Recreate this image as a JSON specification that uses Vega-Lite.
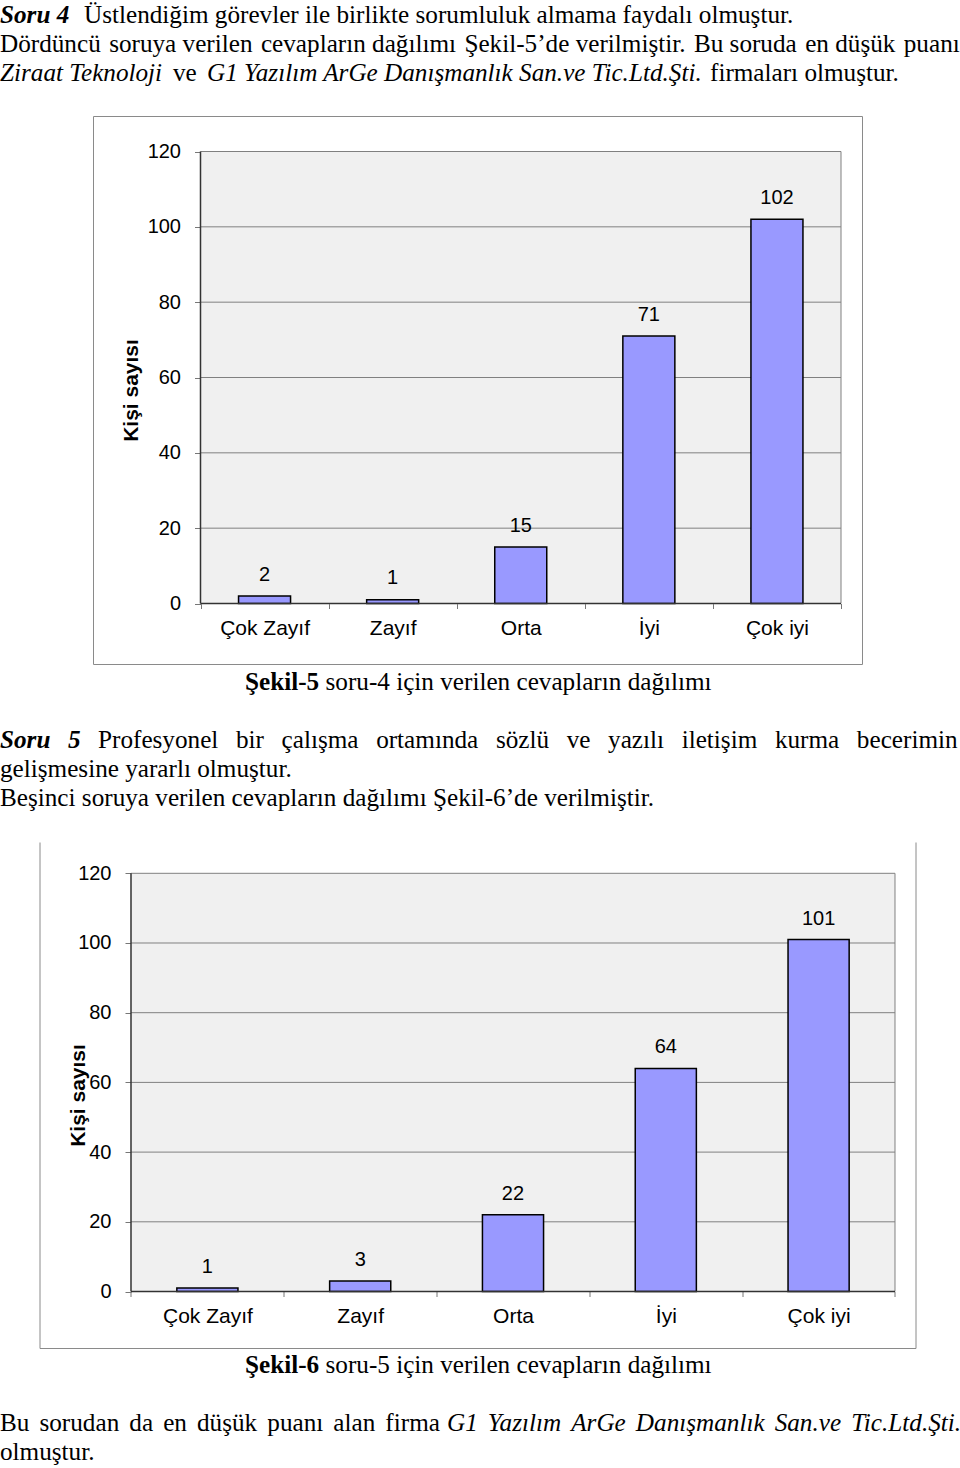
{
  "$schema": "https://vega.github.io/schema/vega-lite/v6.json",
  "padding": 0,
  "background": "white",
  "spacing": 0,
  "center": true,
  "bounds": "flush",
  "config": {
    "view": {"stroke": null},
    "text": {"font": "Liberation Serif", "fontSize": 25.2, "align": "left", "baseline": "alphabetic", "color": "#000"}
  },
  "datasets": {
    "c1": [
      {"cevap": "Çok Zayıf", "kisi": 2},
      {"cevap": "Zayıf", "kisi": 1},
      {"cevap": "Orta", "kisi": 15},
      {"cevap": "İyi", "kisi": 71},
      {"cevap": "Çok iyi", "kisi": 102}
    ],
    "c2": [
      {"cevap": "Çok Zayıf", "kisi": 1},
      {"cevap": "Zayıf", "kisi": 3},
      {"cevap": "Orta", "kisi": 22},
      {"cevap": "İyi", "kisi": 64},
      {"cevap": "Çok iyi", "kisi": 101}
    ],
    "grid": [{"v": 0}, {"v": 20}, {"v": 40}, {"v": 60}, {"v": 80}, {"v": 100}, {"v": 120}]
  },
  "vconcat": [
    {
      "width": 955, "height": 116,
      "encoding": {
        "y": {"field": "row", "type": "quantitative", "scale": {"domain": [-0.78276, 3.21724], "reverse": true, "nice": false, "zero": false}, "axis": null},
        "text": {"field": "t"}
      },
      "layer": [
        {"data": {"values": [{"row": 0, "t": "Soru 4"}]}, "mark": {"type": "text", "fontStyle": "italic", "fontWeight": "bold"}, "encoding": {"x": {"value": 0}}},
        {"data": {"values": [{"row": 0, "t": "Üstlendiğim görevler ile birlikte sorumluluk almama faydalı olmuştur."}]}, "mark": {"type": "text"}, "encoding": {"x": {"value": 84}}},
        {"data": {"values": [{"row": 1, "t": "Dördüncü \u200asoruya verilen \u200acevapların dağılımı \u200aŞekil-5’de verilmiştir. \u200aBu soruda \u200aen düşük \u200apuanı"}]}, "mark": {"type": "text"}, "encoding": {"x": {"value": 0}}},
        {"data": {"values": [{"row": 2, "t": "Ziraat Teknoloji"}]}, "mark": {"type": "text", "fontStyle": "italic"}, "encoding": {"x": {"value": 0}}},
        {"data": {"values": [{"row": 2, "t": "ve"}]}, "mark": {"type": "text"}, "encoding": {"x": {"value": 173}}},
        {"data": {"values": [{"row": 2, "t": "G1 Yazılım ArGe Danışmanlık San.ve Tic.Ltd.Şti."}]}, "mark": {"type": "text", "fontStyle": "italic"}, "encoding": {"x": {"value": 207}}},
        {"data": {"values": [{"row": 2, "t": "firmaları olmuştur."}]}, "mark": {"type": "text"}, "encoding": {"x": {"value": 710}}}
      ]
    },
    {
      "width": 769, "height": 548,
      "view": {"stroke": "#8a8a8a", "strokeWidth": 1},
      "data": {"name": "c1"},
      "encoding": {
        "x": {"field": "cevap", "type": "nominal", "sort": null,
          "scale": {"type": "band", "domain": ["Çok Zayıf", "Zayıf", "Orta", "İyi", "Çok iyi"], "paddingInner": 0, "paddingOuter": 0.50156, "align": 0.83658, "round": false},
          "axis": {"orient": "bottom", "offset": -60.5, "domain": false, "grid": false, "tickBand": "extent", "ticks": true, "tickSize": 5, "tickColor": "#777777", "tickWidth": 1, "labelFont": "Liberation Sans", "labelFontSize": 21, "labelColor": "#000000", "labelPadding": 19.5, "labelBaseline": "middle", "labelAngle": 0, "title": null}},
        "y": {"field": "kisi", "type": "quantitative",
          "scale": {"domain": [-16.0619, 129.4248], "nice": false, "zero": false},
          "axis": {"orient": "left", "offset": -107.5, "values": [0, 20, 40, 60, 80, 100, 120], "domain": false, "grid": false, "ticks": true, "tickSize": 6, "tickColor": "#777777", "labelFont": "Liberation Sans", "labelFontSize": 20, "labelColor": "#000000", "labelPadding": 14, "title": "Kişi sayısı", "titleFont": "Liberation Sans", "titleFontSize": 21, "titleFontWeight": "bold", "titleColor": "#000000", "titlePadding": 5.6}}
      },
      "layer": [
        {"data": {"name": "grid"}, "transform": [{"aggregate": [{"op": "min", "field": "v", "as": "lo"}, {"op": "max", "field": "v", "as": "hi"}]}],
          "mark": {"type": "rect", "fill": "#f0f0f0"},
          "encoding": {"x": {"datum": "Çok Zayıf", "bandPosition": 0}, "x2": {"datum": "Çok iyi", "bandPosition": 1}, "y": {"field": "lo", "type": "quantitative"}, "y2": {"field": "hi"}}},
        {"data": {"name": "grid"}, "transform": [{"filter": "datum.v > 0"}],
          "mark": {"type": "rule", "stroke": "#808080", "strokeWidth": 1},
          "encoding": {"x": {"datum": "Çok Zayıf", "bandPosition": 0}, "x2": {"datum": "Çok iyi", "bandPosition": 1}, "y": {"field": "v", "type": "quantitative"}}},
        {"data": {"name": "grid"}, "transform": [{"aggregate": [{"op": "min", "field": "v", "as": "lo"}, {"op": "max", "field": "v", "as": "hi"}]}],
          "mark": {"type": "rule", "stroke": "#808080", "strokeWidth": 1},
          "encoding": {"x": {"datum": "Çok iyi", "bandPosition": 1}, "y": {"field": "lo", "type": "quantitative"}, "y2": {"field": "hi"}}},
        {"mark": {"type": "bar", "fill": "#9999ff", "stroke": "#000000", "strokeWidth": 1.5, "width": {"band": 0.406}}},
        {"data": {"name": "grid"}, "transform": [{"aggregate": [{"op": "min", "field": "v", "as": "lo"}, {"op": "max", "field": "v", "as": "hi"}]}],
          "mark": {"type": "rule", "stroke": "#333333", "strokeWidth": 1.5},
          "encoding": {"x": {"datum": "Çok Zayıf", "bandPosition": 0}, "y": {"field": "lo", "type": "quantitative"}, "y2": {"field": "hi"}}},
        {"data": {"name": "grid"}, "transform": [{"filter": "datum.v == 0"}],
          "mark": {"type": "rule", "stroke": "#333333", "strokeWidth": 1.5},
          "encoding": {"x": {"datum": "Çok Zayıf", "bandPosition": 0}, "x2": {"datum": "Çok iyi", "bandPosition": 1}, "y": {"field": "v", "type": "quantitative"}}},
        {"mark": {"type": "text", "font": "Liberation Sans", "fontSize": 20, "align": "center", "baseline": "middle", "dy": -21.3}, "encoding": {"text": {"field": "kisi", "type": "quantitative"}}}
      ]
    },
    {
      "width": 955, "height": 48,
      "encoding": {
        "y": {"field": "row", "type": "quantitative", "scale": {"domain": [-0.89655, 0.75862], "reverse": true, "nice": false, "zero": false}, "axis": null},
        "text": {"field": "t"}
      },
      "layer": [
        {"data": {"values": [{"row": 0, "t": "Şekil-5"}]}, "mark": {"type": "text", "fontWeight": "bold"}, "encoding": {"x": {"value": 245}}},
        {"data": {"values": [{"row": 0, "t": "soru-4 için verilen cevapların dağılımı"}]}, "mark": {"type": "text"}, "encoding": {"x": {"value": 325.5}}}
      ]
    },
    {
      "width": 955, "height": 130,
      "encoding": {
        "y": {"field": "row", "type": "quantitative", "scale": {"domain": [-1.24138, 3.24138], "reverse": true, "nice": false, "zero": false}, "axis": null},
        "text": {"field": "t"}
      },
      "layer": [
        {"data": {"values": [{"row": 0, "t": "Soru\u2002\u20095"}]}, "mark": {"type": "text", "fontStyle": "italic", "fontWeight": "bold"}, "encoding": {"x": {"value": 0}}},
        {"data": {"values": [{"row": 0, "t": "Profesyonel\u2002\u2009bir\u2002\u2009çalışma\u2002\u2009ortamında\u2002\u2009sözlü\u2002\u2009ve\u2002\u2009yazılı\u2002\u2009iletişim\u2002\u2009kurma\u2002\u2009becerimin"}]}, "mark": {"type": "text"}, "encoding": {"x": {"value": 98}}},
        {"data": {"values": [{"row": 1, "t": "gelişmesine yararlı olmuştur."}, {"row": 2, "t": "Beşinci soruya verilen cevapların dağılımı Şekil-6’de verilmiştir."}]}, "mark": {"type": "text"}, "encoding": {"x": {"value": 0}}}
      ]
    },
    {
      "width": 876, "height": 506,
      "data": {"name": "c2"},
      "resolve": {"axis": {"x": "independent", "y": "independent"}},
      "encoding": {
        "x": {"field": "cevap", "type": "nominal", "sort": null,
          "scale": {"type": "band", "domain": ["Çok Zayıf", "Zayıf", "Orta", "İyi", "Çok iyi"], "paddingInner": 0, "paddingOuter": 0.36649, "align": 0.81696, "round": false},
          "axis": {"orient": "bottom", "offset": -56.5, "domain": false, "grid": false, "tickBand": "extent", "ticks": true, "tickSize": 5, "tickColor": "#777777", "tickWidth": 1, "labelFont": "Liberation Sans", "labelFontSize": 21, "labelColor": "#000000", "labelPadding": 19.5, "labelBaseline": "middle", "labelAngle": 0, "title": null}},
        "y": {"field": "kisi", "type": "quantitative",
          "scale": {"domain": [-16.212, 128.981], "nice": false, "zero": false},
          "axis": {"orient": "left", "offset": -91.5, "values": [0, 20, 40, 60, 80, 100, 120], "domain": false, "grid": false, "ticks": true, "tickSize": 6, "tickColor": "#777777", "labelFont": "Liberation Sans", "labelFontSize": 20, "labelColor": "#000000", "labelPadding": 14, "title": "Kişi sayısı", "titleFont": "Liberation Sans", "titleFontSize": 21, "titleFontWeight": "bold", "titleColor": "#000000", "titlePadding": -10.7}}
      },
      "layer": [
        {"data": {"name": "grid"}, "transform": [{"aggregate": [{"op": "min", "field": "v", "as": "lo"}, {"op": "max", "field": "v", "as": "hi"}]}],
          "mark": {"type": "rect", "fill": "#f0f0f0"},
          "encoding": {"x": {"datum": "Çok Zayıf", "bandPosition": 0, "axis": null}, "x2": {"datum": "Çok iyi", "bandPosition": 1}, "y": {"field": "lo", "type": "quantitative", "axis": null}, "y2": {"field": "hi"}}},
        {"data": {"name": "grid"}, "transform": [{"filter": "datum.v > 0"}],
          "mark": {"type": "rule", "stroke": "#808080", "strokeWidth": 1},
          "encoding": {"x": {"datum": "Çok Zayıf", "bandPosition": 0, "axis": null}, "x2": {"datum": "Çok iyi", "bandPosition": 1}, "y": {"field": "v", "type": "quantitative", "axis": null}}},
        {"data": {"name": "grid"}, "transform": [{"aggregate": [{"op": "min", "field": "v", "as": "lo"}, {"op": "max", "field": "v", "as": "hi"}]}],
          "mark": {"type": "rule", "stroke": "#808080", "strokeWidth": 1},
          "encoding": {"x": {"datum": "Çok iyi", "bandPosition": 1, "axis": null}, "y": {"field": "lo", "type": "quantitative", "axis": null}, "y2": {"field": "hi"}}},
        {"data": {"name": "grid"},
          "mark": {"type": "rule", "strokeOpacity": 0},
          "encoding": {"x": {"datum": "Çok Zayıf", "bandPosition": 0, "axis": {"orient": "bottom", "offset": 0, "domain": true, "domainColor": "#8a8a8a", "domainWidth": 1, "ticks": false, "labels": false, "grid": false, "title": null}},
            "y": {"field": "v", "type": "quantitative", "axis": {"orient": "left", "offset": 0, "domain": true, "domainColor": "#8a8a8a", "domainWidth": 1, "ticks": false, "labels": false, "grid": false, "title": null}}}},
        {"data": {"name": "grid"},
          "mark": {"type": "rule", "strokeOpacity": 0},
          "encoding": {"x": {"datum": "Çok Zayıf", "bandPosition": 0, "axis": null},
            "y": {"field": "v", "type": "quantitative", "axis": {"orient": "right", "offset": 0, "domain": true, "domainColor": "#8a8a8a", "domainWidth": 1, "ticks": false, "labels": false, "grid": false, "title": null}}}},
        {"mark": {"type": "bar", "fill": "#9999ff", "stroke": "#000000", "strokeWidth": 1.5, "width": {"band": 0.4}}},
        {"data": {"name": "grid"}, "transform": [{"aggregate": [{"op": "min", "field": "v", "as": "lo"}, {"op": "max", "field": "v", "as": "hi"}]}],
          "mark": {"type": "rule", "stroke": "#333333", "strokeWidth": 1.5},
          "encoding": {"x": {"datum": "Çok Zayıf", "bandPosition": 0, "axis": null}, "y": {"field": "lo", "type": "quantitative", "axis": null}, "y2": {"field": "hi"}}},
        {"data": {"name": "grid"}, "transform": [{"filter": "datum.v == 0"}],
          "mark": {"type": "rule", "stroke": "#333333", "strokeWidth": 1.5},
          "encoding": {"x": {"datum": "Çok Zayıf", "bandPosition": 0, "axis": null}, "x2": {"datum": "Çok iyi", "bandPosition": 1}, "y": {"field": "v", "type": "quantitative", "axis": null}}},
        {"mark": {"type": "text", "font": "Liberation Sans", "fontSize": 20, "align": "center", "baseline": "middle", "dy": -21},
          "encoding": {"x": {"field": "cevap", "type": "nominal", "axis": null}, "y": {"field": "kisi", "type": "quantitative", "axis": null}, "text": {"field": "kisi", "type": "quantitative"}}}
      ]
    },
    {
      "width": 955, "height": 48,
      "encoding": {
        "y": {"field": "row", "type": "quantitative", "scale": {"domain": [-0.86207, 0.7931], "reverse": true, "nice": false, "zero": false}, "axis": null},
        "text": {"field": "t"}
      },
      "layer": [
        {"data": {"values": [{"row": 0, "t": "Şekil-6"}]}, "mark": {"type": "text", "fontWeight": "bold"}, "encoding": {"x": {"value": 245}}},
        {"data": {"values": [{"row": 0, "t": "soru-5 için verilen cevapların dağılımı"}]}, "mark": {"type": "text"}, "encoding": {"x": {"value": 325.5}}}
      ]
    },
    {
      "width": 955, "height": 72,
      "encoding": {
        "y": {"field": "row", "type": "quantitative", "scale": {"domain": [-1.2069, 1.27586], "reverse": true, "nice": false, "zero": false}, "axis": null},
        "text": {"field": "t"}
      },
      "layer": [
        {"data": {"values": [{"row": 0, "t": "Bu\u2009\u2009sorudan\u2009\u2009da\u2009\u2009en\u2009\u2009düşük\u2009\u2009puanı\u2009\u2009alan\u2009\u2009firma"}]}, "mark": {"type": "text"}, "encoding": {"x": {"value": 0}}},
        {"data": {"values": [{"row": 0, "t": "G1\u2009\u2009Yazılım\u2009\u2009ArGe\u2009\u2009Danışmanlık\u2009\u2009San.ve\u2009\u2009Tic.Ltd.Şti."}]}, "mark": {"type": "text", "fontStyle": "italic"}, "encoding": {"x": {"value": 447}}},
        {"data": {"values": [{"row": 1, "t": "olmuştur."}]}, "mark": {"type": "text"}, "encoding": {"x": {"value": 0}}}
      ]
    }
  ]
}
